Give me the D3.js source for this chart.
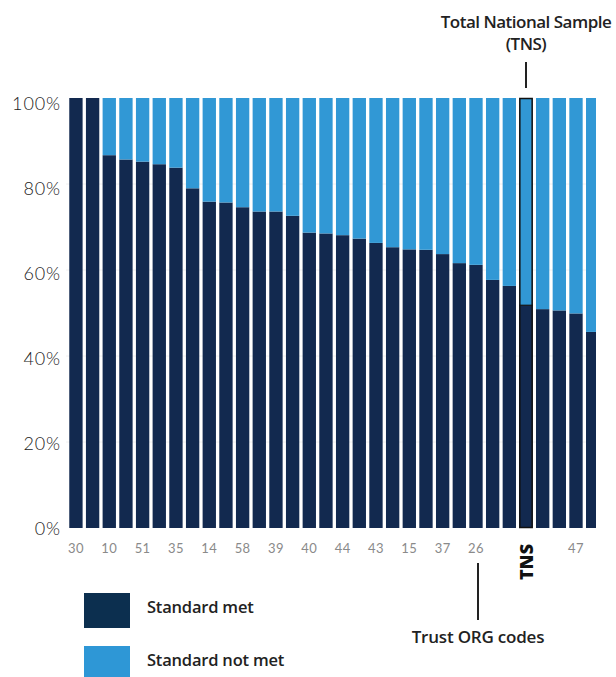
<!DOCTYPE html>
<html>
<head>
<meta charset="utf-8">
<script src="https://cdn.jsdelivr.net/npm/d3@7/dist/d3.min.js"></script>
<style>
  html, body { margin: 0; padding: 0; background: #fff; }
  svg { display: block; }
</style>
</head>
<body>
<svg id="chart" width="616" height="677"></svg>
<script>
// Share of each trust meeting the standard (percent), sorted high to low
const metValues = [100, 100, 86.7, 85.7, 85.2, 84.6, 83.8, 79.0, 75.9, 75.7, 74.6, 73.6, 73.6, 72.6, 68.7, 68.5,
                   68.1, 67.3, 66.3, 65.3, 64.8, 64.7, 63.7, 61.6, 61.2, 57.7, 56.3, 51.8, 50.9, 50.6, 49.9, 45.6];
const notMetValues = [0, 0, 13.3, 14.3, 14.8, 15.4, 16.2, 21.0, 24.1, 24.3, 25.4, 26.4, 26.4, 27.4, 31.3, 31.5,
                      31.9, 32.7, 33.7, 34.7, 35.2, 35.3, 36.3, 38.4, 38.8, 42.3, 43.7, 48.2, 49.1, 49.4, 50.1, 54.4];
// Trust ORG codes shown under the bars (every other bar is labelled)
const codeLabels = ["30", "", "10", "", "51", "", "35", "", "14", "", "58", "", "39", "", "40", "",
                    "44", "", "43", "", "15", "", "37", "", "26", "", "", "TNS", "", "", "47", ""];
const yTicks = [0, 20, 40, 60, 80, 100];
const seriesNames = ["Standard met", "Standard not met"];
const seriesColors = ["#12294f", "#3198d5"];
const tnsIndex = codeLabels.indexOf("TNS");

const svg = d3.select("#chart");

const x = d3.scaleBand()
  .domain(d3.range(metValues.length))
  .range([67.6, 601])
  .paddingInner(0.2)
  .paddingOuter(0.1);

const y = d3.scaleLinear().domain([0, 100]).range([528, 98]);

// clip the plot at the right edge
svg.append("defs").append("clipPath").attr("id", "plotClip")
  .append("rect").attr("x", 0).attr("y", 0).attr("width", 596).attr("height", 677);

// faint horizontal gridlines
svg.append("g").selectAll("line").data(yTicks.filter(t => t > 0 && t < 100)).join("line")
  .attr("x1", 66).attr("x2", 596)
  .attr("y1", d => y(d)).attr("y2", d => y(d))
  .attr("stroke", "#f0f0f0").attr("stroke-width", 1);

// stacked bars
const rows = metValues.map((m, i) => ({ i, met: m, notMet: notMetValues[i] }));
const stack = d3.stack().keys(["met", "notMet"]);
const layers = stack(rows);

const plot = svg.append("g").attr("clip-path", "url(#plotClip)");
plot.selectAll("g.layer").data(layers).join("g")
  .attr("class", "layer")
  .attr("fill", (d, k) => seriesColors[k])
  .selectAll("rect").data(d => d).join("rect")
  .attr("x", d => x(d.data.i))
  .attr("width", x.bandwidth())
  .attr("y", d => y(d[1]))
  .attr("height", d => y(d[0]) - y(d[1]));

// outline the national sample bar
plot.append("rect")
  .attr("x", x(tnsIndex) + 0.5)
  .attr("y", y(100) + 0.5)
  .attr("width", x.bandwidth() - 1)
  .attr("height", y(0) - y(100) - 1)
  .attr("fill", "none")
  .attr("stroke", "#111")
  .attr("stroke-width", 1.5);
plot.append("line")
  .attr("x1", x(tnsIndex)).attr("x2", x(tnsIndex) + x.bandwidth())
  .attr("y1", y(metValues[tnsIndex])).attr("y2", y(metValues[tnsIndex]))
  .attr("stroke", "#111").attr("stroke-width", 1.2);

// y axis labels
svg.append("g").selectAll("text").data(yTicks).join("text")
  .attr("x", 61)
  .attr("y", d => y(d) + 7 + d * 0.05)
  .attr("text-anchor", "end")
  .attr("font-family", "Lato, 'Open Sans', sans-serif")
  .attr("font-weight", 300)
  .attr("font-size", 18)
  .attr("letter-spacing", 0.9)
  .attr("fill", "#222")
  .text(d => d + "%");

// x axis labels
svg.append("g").selectAll("text")
  .data(codeLabels.map((c, i) => ({ c, i })).filter(d => d.c && d.c !== "TNS"))
  .join("text")
  .attr("x", d => x(d.i) + x.bandwidth() / 2)
  .attr("y", 553)
  .attr("text-anchor", "middle")
  .attr("font-family", "Lato, 'Open Sans', sans-serif")
  .attr("font-size", 13)
  .attr("letter-spacing", 0.4)
  .attr("fill", "#8a8a8a")
  .text(d => d.c);

// rotated TNS label
const tnsX = x(tnsIndex) + x.bandwidth() / 2;
svg.append("text")
  .attr("transform", `translate(${tnsX + 7},562) rotate(-90)`)
  .attr("text-anchor", "middle")
  .attr("font-family", "'Open Sans', sans-serif")
  .attr("font-weight", 800)
  .attr("font-size", 18)
  .attr("fill", "#111")
  .text("TNS");

// TNS annotation above
svg.append("line")
  .attr("x1", tnsX).attr("x2", tnsX).attr("y1", 62).attr("y2", 88)
  .attr("stroke", "#222").attr("stroke-width", 2);
const ann = svg.append("text")
  .attr("text-anchor", "middle")
  .attr("font-family", "'Open Sans', sans-serif")
  .attr("font-weight", 600)
  .attr("font-size", 17)
  .attr("letter-spacing", -0.5)
  .attr("fill", "#222");
ann.append("tspan").attr("x", tnsX).attr("y", 28).text("Total National Sample");
ann.append("tspan").attr("x", tnsX).attr("y", 50).text("(TNS)");

// ORG codes annotation below
const codesX = x(24) + x.bandwidth() / 2 + 2;
svg.append("line")
  .attr("x1", codesX).attr("x2", codesX).attr("y1", 563).attr("y2", 620)
  .attr("stroke", "#222").attr("stroke-width", 2);
svg.append("text")
  .attr("x", codesX).attr("y", 643)
  .attr("text-anchor", "middle")
  .attr("font-family", "'Open Sans', sans-serif")
  .attr("font-weight", 600)
  .attr("font-size", 17)
  .attr("letter-spacing", -0.2)
  .attr("fill", "#222")
  .text("Trust ORG codes");

// legend
const legend = svg.append("g");
const legendY = [593, 646];
legend.selectAll("rect").data(seriesNames).join("rect")
  .attr("x", 84).attr("y", (d, k) => legendY[k])
  .attr("width", 46).attr("height", 35)
  .attr("fill", (d, k) => k === 0 ? "#0c2f4f" : "#2e97d6");
legend.selectAll("text").data(seriesNames).join("text")
  .attr("x", 147).attr("y", (d, k) => legendY[k] + 20)
  .attr("font-family", "'Open Sans', sans-serif")
  .attr("font-weight", 600)
  .attr("font-size", 16.5)
  .attr("letter-spacing", -0.2)
  .attr("fill", "#222")
  .text(d => d);
</script>
</body>
</html>
